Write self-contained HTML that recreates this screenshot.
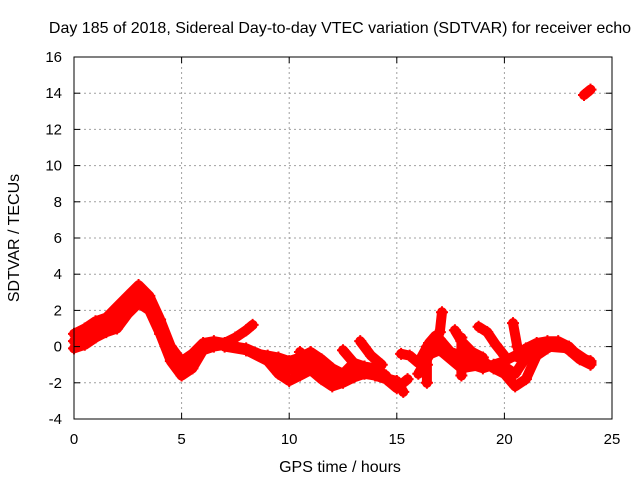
<!DOCTYPE html>
<html><head><meta charset="utf-8"><style>
body{margin:0;background:#fff}
svg{display:block;font-family:"Liberation Sans",sans-serif}
</style></head><body>
<svg id="chart" width="640" height="480">
<rect width="640" height="480" fill="#fff"/>
<text x="340" y="33" font-size="16" text-anchor="middle">Day 185 of 2018, Sidereal Day-to-day VTEC variation (SDTVAR) for receiver echo</text>
<g id="grid"></g>
<g id="series"></g>
<rect x="74" y="57" width="538" height="362" fill="none" stroke="#000"/>
<g id="ticks"></g>
<text x="340" y="472" font-size="16" text-anchor="middle">GPS time / hours</text>
<text transform="translate(19,238) rotate(-90)" font-size="16" text-anchor="middle">SDTVAR / TECUs</text>
</svg>
<script>
const xTicks=[0,5,10,15,20,25];
const yTicks=[-4,-2,0,2,4,6,8,10,12,14,16];
const track1=[[0,0.7],[0.5,1.0],[1,1.4],[1.5,1.6],[2,2.2],[2.5,2.8],[3,3.4],[3.5,2.8],[4,1.5],[4.5,0],[5,-0.8],[5.5,-0.4],[6,0.2],[6.5,0.3],[7,0.2],[7.5,0.5],[8,0.9],[8.3,1.2]];
const track2=[[0,-0.1],[0.5,0.1],[1,0.5],[1.5,0.8],[2,1.0],[2.5,1.8],[3,2.4],[3.5,2.0],[4,0.7],[4.5,-0.8],[5,-1.6],[5.5,-1.2],[6,-0.2],[6.5,0],[7,0.1],[7.5,0],[8,-0.2],[8.5,-0.4],[9,-0.5],[9.5,-0.6],[10,-0.8],[10.5,-0.6],[11,-0.3],[11.5,-0.7],[12,-1.2],[12.5,-1.5],[13,-1.4],[13.5,-1.2],[14,-1.6],[14.5,-1.8],[15,-2.3],[15.5,-1.8]];
const track3=[[7,0],[8,-0.2],[9,-0.8],[9.5,-1.5],[10,-1.9],[10.5,-1.6],[11,-1.3],[11.5,-1.8],[12,-2.2],[12.5,-2.0],[13,-1.7],[13.5,-1.5],[14,-1.6],[15,-1.9],[15.3,-2.5]];
const track4=[[10.5,-0.3],[11,-0.8],[11.5,-1.1],[12,-1.4],[12.5,-1.5],[13,-0.9],[13.5,-1.1],[14,-1.2],[14.5,-1.6]];
const track5=[[12.5,-0.2],[13,-0.9]];
const track6=[[13.3,0.3],[13.8,-0.5],[14.3,-1.0]];
const track7=[[15.2,-0.4],[15.6,-0.5],[16,-0.9],[16.5,0.2],[16.8,0.6],[17,0.4],[17.5,-0.3],[18,-0.5],[18.5,-0.5],[19,-0.8],[19.5,-1.2],[20,-1.5],[20.5,-2.2],[21,-1.8],[21.5,-0.5],[22,-0.1],[22.5,0.2],[23,-0.2],[23.5,-0.7],[24,-1.0]];
const track8=[[16,-1.5],[16.5,-0.5],[17,0.8],[17.1,1.9]];
const track9=[[17.5,-0.6],[18,-0.8],[18.5,-1.0],[19,-1.2],[19.5,-1.0],[20,-0.8],[20.5,-0.5],[21,-0.1],[21.5,0.2],[22,0.3],[22.5,0.3],[23,0],[23.5,-0.6],[24,-0.8]];
const track10=[[17.7,0.9],[18,0.3],[18.5,-0.3],[19,-0.6]];
const track11=[[18.8,1.1],[19.2,0.8],[19.6,0.1],[20,-0.5]];
const track12=[[20.4,1.3],[20.6,0],[20.8,-0.8]];
const track13=[[16.4,-2.0],[16.4,-1.0],[16.4,0]];
const track14=[[18,-1.6],[18,-0.5],[18,0.5]];
const track15=[[23.7,13.9],[24,14.2]];
const track16=[[0,0.3],[1,0.9],[2,1.5],[3,2.9],[4,1.1],[5,-1.2],[6,0],[7,0.1],[8,-0.1],[9,-0.6],[10,-1.3],[11,-0.9],[12,-1.7],[13,-1.5],[14,-1.4],[15,-2.0]];
const track17=[[16.6,-0.4],[17,-0.2],[18,-1.2],[19,-1.0],[20,-1.1],[20.5,-1.5],[21,-0.6],[22,0],[23,-0.1],[24,-0.9]];
const tracks=[track1,track2,track3,track4,track5,track6,track7,track8,track9,track10,track11,track12,track13,track14,track15,track16,track17];

const X0=74,X1=612,Y0=419,Y1=57,xmin=0,xmax=25,ymin=-4,ymax=16;
const sx=t=>X0+(t-xmin)/(xmax-xmin)*(X1-X0);
const sy=v=>Y0-(v-ymin)/(ymax-ymin)*(Y0-Y1);
const NS='http://www.w3.org/2000/svg';
const grid=document.getElementById('grid'),ticks=document.getElementById('ticks'),ser=document.getElementById('series');
function mk(tag,attrs,parent){const e=document.createElementNS(NS,tag);for(const k in attrs)e.setAttribute(k,attrs[k]);parent.appendChild(e);return e;}
xTicks.forEach(t=>{
  const x=sx(t);
  if(t>xmin&&t<xmax){const g=mk('line',{x1:x,x2:x,y1:Y1,y2:Y0,stroke:'#a0a0a0','stroke-dasharray':'2,3'},grid);
  
  }
  mk('line',{x1:x,x2:x,y1:Y0,y2:Y0-6,stroke:'#000'},ticks);
  mk('line',{x1:x,x2:x,y1:Y1,y2:Y1+6,stroke:'#000'},ticks);
  const l=mk('text',{x:x,y:444,'font-size':15,'text-anchor':'middle'},ticks);l.textContent=t;
  
  
});
yTicks.forEach(v=>{
  const y=sy(v);
  if(v>ymin&&v<ymax){const g=mk('line',{x1:X0,x2:X1,y1:y,y2:y,stroke:'#a0a0a0','stroke-dasharray':'2,3'},grid);
  
  }
  mk('line',{x1:X0,x2:X0+6,y1:y,y2:y,stroke:'#000'},ticks);
  mk('line',{x1:X1,x2:X1-6,y1:y,y2:y,stroke:'#000'},ticks);
  const l=mk('text',{x:62,y:y+5,'font-size':15,'text-anchor':'end'},ticks);l.textContent=v;
  
  
});
tracks.forEach((tr,i)=>{
  const pts=tr.map(p=>sx(p[0]).toFixed(1)+','+sy(p[1]).toFixed(1)).join(' ');
  const pl=mk('polyline',{points:pts,fill:'none',stroke:'#f00','stroke-width':10,'stroke-linejoin':'round','stroke-linecap':'round'},ser);
  
  
  tr.forEach(p=>{
    const x=sx(p[0]),y=sy(p[1]);
    const m=mk('path',{d:`M${x-6},${y}H${x+6}M${x},${y-6}V${y+6}`,stroke:'#f00','stroke-width':2},ser);
    
    
  });
});
</script>
</body></html>
